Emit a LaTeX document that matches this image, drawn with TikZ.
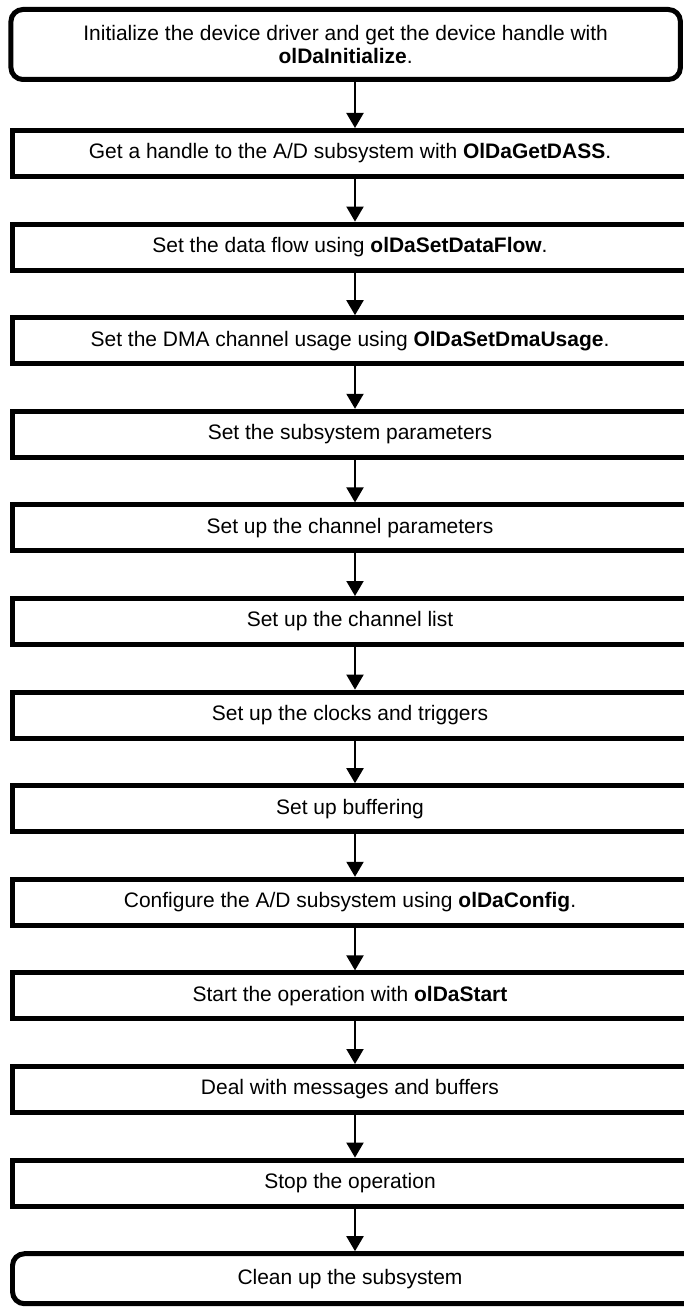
\documentclass[tikz,border=0pt]{standalone}
\usepackage{fontspec}
\setmainfont{Liberation Sans}
\usetikzlibrary{arrows.meta,positioning}
\tikzset{
  stepbox/.style={draw, line width=0.15cm, minimum width=20.25cm, minimum height=1.38cm,
    inner sep=0pt, align=center, font=\fontsize{17.9}{19}\selectfont},
  endbox/.style={stepbox, rounded corners=0.36cm},
  link/.style={-{Triangle[length=0.45cm, width=0.51cm]}, line width=0.06cm},
}

\begin{document}
\begin{tikzpicture}
  \useasboundingbox (0,0) rectangle (20.49,-39.27);

  % Start and end of the sequence have rounded corners
  \node[endbox, minimum width=20.085cm, minimum height=2.1cm] (init) at (10.37,-1.335)
    {Initialize the device driver and get the device handle with\\\textbf{olDaInitialize}.};
  \node[stepbox, below=1.38cm of init, xshift=0.13cm] (dass)
    {Get a handle to the A/D subsystem with \textbf{OlDaGetDASS}.};
  \node[stepbox, below=1.278cm of dass] (dataflow)
    {Set the data flow using \textbf{olDaSetDataFlow}.};
  \node[stepbox, below=1.278cm of dataflow] (dma)
    {Set the DMA channel usage using \textbf{OlDaSetDmaUsage}.};
  \node[stepbox, below=1.278cm of dma] (subsys) {Set the subsystem parameters};
  \node[stepbox, below=1.278cm of subsys] (chparams) {Set up the channel parameters};
  \node[stepbox, below=1.278cm of chparams] (chlist) {Set up the channel list};
  \node[stepbox, below=1.278cm of chlist] (clocks) {Set up the clocks and triggers};
  \node[stepbox, below=1.278cm of clocks] (buffers) {Set up buffering};
  \node[stepbox, below=1.278cm of buffers] (config)
    {Configure the A/D subsystem using \textbf{olDaConfig}.};
  \node[stepbox, below=1.278cm of config] (start)
    {Start the operation with \textbf{olDaStart}};
  \node[stepbox, below=1.278cm of start] (msgs) {Deal with messages and buffers};
  \node[stepbox, below=1.278cm of msgs] (stop) {Stop the operation};
  \node[endbox, minimum width=20.85cm, minimum height=1.5cm, below=1.278cm of stop,
    xshift=0.3cm] (cleanup) {\hspace*{-0.6cm}Clean up the subsystem};

  % Arrows run a little right of the box centres
  \foreach \a/\b in {init/dass, dass/dataflow, dataflow/dma, dma/subsys, subsys/chparams,
      chparams/chlist, chlist/clocks, clocks/buffers, buffers/config, config/start,
      start/msgs, msgs/stop}
    \draw[link] ([xshift=0.15cm]\b.north |- \a.south) -- ([xshift=0.15cm]\b.north);
  \draw[link] ([xshift=0.15cm]stop.south) -- ([xshift=0.15cm]stop.south |- cleanup.north);
\end{tikzpicture}
\end{document}
